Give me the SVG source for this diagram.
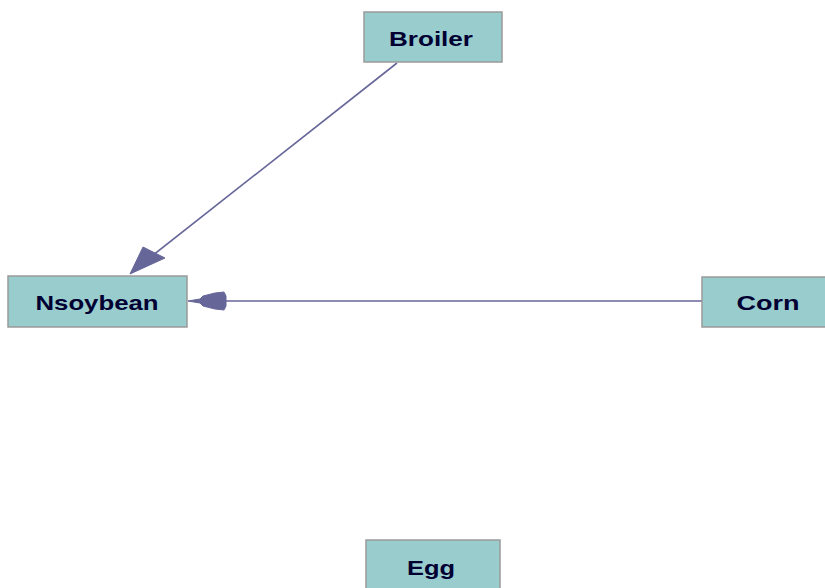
<svg xmlns="http://www.w3.org/2000/svg" width="825" height="588" viewBox="0 0 825 588">
  <style>
    .box { fill: #99cccc; stroke: #9a9a9a; stroke-width: 1.5; }
    .lbl { font-family: "Liberation Sans", Arial, sans-serif; font-weight: bold; font-size: 21px; fill: #000033; text-anchor: middle; }
    .edge { stroke: #666699; stroke-width: 1.6; fill: none; }
    .head { fill: #666699; stroke: #666699; stroke-width: 1; stroke-linejoin: round; }
  </style>
  <rect width="825" height="588" fill="#ffffff"/>

  <g id="edges">
    <!-- Broiler -> Nsoybean -->
    <line class="edge" x1="397" y1="63" x2="152" y2="256"/>
    <polygon class="head" points="130,274 143,247 155,253 165,258"/>
    <!-- Corn -> Nsoybean -->
    <line class="edge" x1="702" y1="301" x2="222" y2="301"/>
    <polygon class="head" points="188,301 200,299 203,296 215,293 224,292 226,296 226,306 224,310 215,309 203,306 200,303"/>
  </g>

  <g id="node-broiler">
    <rect class="box" x="364" y="12" width="138" height="50"/>
    <text class="lbl" x="431" y="46" textLength="84" lengthAdjust="spacingAndGlyphs">Broiler</text>
  </g>

  <g id="node-nsoybean">
    <rect class="box" x="8" y="276" width="179" height="51"/>
    <text class="lbl" x="97" y="310" textLength="123" lengthAdjust="spacingAndGlyphs">Nsoybean</text>
  </g>

  <g id="node-corn">
    <rect class="box" x="702" y="277" width="130" height="50"/>
    <text class="lbl" x="768" y="310" textLength="63" lengthAdjust="spacingAndGlyphs">Corn</text>
  </g>

  <g id="node-egg">
    <rect class="box" x="366" y="540" width="134" height="60"/>
    <text class="lbl" x="431" y="575" textLength="48" lengthAdjust="spacingAndGlyphs">Egg</text>
  </g>
</svg>
